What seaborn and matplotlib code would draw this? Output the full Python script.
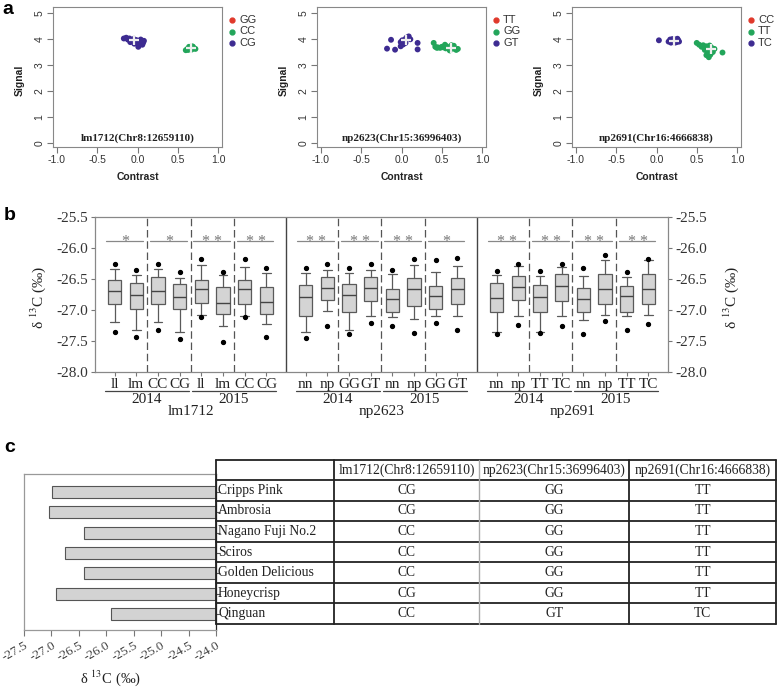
import numpy as np
import pandas as pd
import matplotlib
matplotlib.use('Agg')
import matplotlib.pyplot as plt
import seaborn as sns
from matplotlib.transforms import blended_transform_factory

# ---------------- data ----------------
# panel a: genotype clusters (contrast, signal)
lm1712_genotypes = ['GG', 'CC', 'CG']
lm1712_cg_x = [-0.17, -0.14, -0.12, -0.10, -0.08, -0.06, -0.05, -0.03, -0.02, 0.00,
               0.01, 0.03, 0.05, 0.07, 0.08, -0.09, -0.01, 0.04, -0.04, 0.06]
lm1712_cg_y = [4.02, 4.05, 3.98, 4.02, 3.95, 3.92, 4.00, 3.97, 3.88, 3.85,
               3.70, 3.80, 3.90, 3.86, 3.93, 3.88, 3.95, 3.98, 3.82, 3.78]
lm1712_cc_x = [0.60, 0.62, 0.64, 0.66, 0.68, 0.70, 0.72, 0.63, 0.67, 0.69]
lm1712_cc_y = [3.57, 3.62, 3.70, 3.66, 3.72, 3.64, 3.62, 3.58, 3.59, 3.70]
lm1712_centers = ([-0.04, 0.66], [3.96, 3.65])

np2623_genotypes = ['TT', 'GG', 'GT']
np2623_gt_x = [-0.18, -0.13, -0.08, -0.01, -0.01, 0.01, 0.04, 0.06, 0.09, 0.11, 0.05, 0.20, 0.20, 0.02]
np2623_gt_y = [3.63, 3.97, 3.59, 3.72, 3.88, 3.95, 3.97, 4.05, 4.10, 3.99, 3.85, 3.85, 3.60, 3.79]
np2623_gg_x = [0.40, 0.42, 0.45, 0.48, 0.50, 0.52, 0.54, 0.56, 0.58, 0.60,
               0.62, 0.64, 0.66, 0.68, 0.70, 0.60, 0.55, 0.65, 0.44, 0.62]
np2623_gg_y = [3.85, 3.70, 3.68, 3.66, 3.70, 3.68, 3.78, 3.72, 3.65, 3.60,
               3.70, 3.66, 3.62, 3.58, 3.62, 3.56, 3.64, 3.74, 3.66, 3.76]
np2623_centers = ([0.06, 0.61], [3.95, 3.66])

np2691_genotypes = ['CC', 'TT', 'TC']
np2691_tc_x = [0.03, 0.15, 0.17, 0.18, 0.20, 0.22, 0.24, 0.25, 0.27, 0.28, 0.19, 0.23, 0.26]
np2691_tc_y = [3.95, 3.90, 3.98, 3.86, 4.00, 3.93, 3.98, 3.88, 3.95, 3.90, 3.93, 3.86, 4.01]
np2691_tt_x = [0.50, 0.53, 0.56, 0.58, 0.60, 0.62, 0.63, 0.64, 0.65, 0.66,
               0.67, 0.68, 0.70, 0.72, 0.62, 0.82, 0.66, 0.60]
np2691_tt_y = [3.85, 3.78, 3.70, 3.76, 3.65, 3.72, 3.55, 3.45, 3.30, 3.60,
               3.40, 3.68, 3.50, 3.62, 3.38, 3.48, 3.75, 3.58]
np2691_centers = ([0.22, 0.68], [3.93, 3.62])

scatter_titles = ['lm1712(Chr8:12659110)', 'np2623(Chr15:36996403)', 'np2691(Chr16:4666838)']

# panel b: box summaries, 24 boxes (3 loci x 2 years x 2 genotypes x 2)
box_labels = ['ll', 'lm', 'CC', 'CG', 'll', 'lm', 'CC', 'CG',
              'nn', 'np', 'GG', 'GT', 'nn', 'np', 'GG', 'GT',
              'nn', 'np', 'TT', 'TC', 'nn', 'np', 'TT', 'TC']
box_flier_hi = [-26.26, -26.36, -26.26, -26.39, -26.17, -26.39, -26.17, -26.32,
                -26.32, -26.25, -26.33, -26.25, -26.36, -26.18, -26.20, -26.16,
                -26.37, -26.25, -26.37, -26.25, -26.33, -26.11, -26.38, -26.17]
box_whishi = [-26.34, -26.43, -26.34, -26.48, -26.27, -26.43, -26.31, -26.40,
              -26.41, -26.36, -26.41, -26.35, -26.42, -26.28, -26.38, -26.29,
              -26.43, -26.29, -26.45, -26.31, -26.45, -26.19, -26.47, -26.19]
box_q3 = [-26.51, -26.56, -26.46, -26.58, -26.51, -26.63, -26.52, -26.63,
          -26.59, -26.46, -26.58, -26.47, -26.66, -26.48, -26.62, -26.49,
          -26.56, -26.45, -26.59, -26.42, -26.64, -26.42, -26.62, -26.42]
box_median = [-26.70, -26.75, -26.70, -26.79, -26.66, -26.88, -26.66, -26.87,
              -26.79, -26.65, -26.75, -26.64, -26.83, -26.66, -26.78, -26.66,
              -26.81, -26.63, -26.79, -26.61, -26.83, -26.66, -26.78, -26.66]
box_q1 = [-26.90, -26.98, -26.90, -26.98, -26.88, -27.06, -26.90, -27.06,
          -27.09, -26.84, -27.03, -26.86, -27.04, -26.94, -26.99, -26.91,
          -27.03, -26.84, -27.03, -26.85, -27.04, -26.90, -27.04, -26.90]
box_whislo = [-27.19, -27.33, -27.19, -27.35, -27.08, -27.25, -27.09, -27.23,
              -27.36, -27.01, -27.32, -27.09, -27.11, -27.15, -27.10, -27.10,
              -27.35, -27.09, -27.36, -27.10, -27.16, -27.08, -27.09, -27.08]
box_flier_lo = [-27.36, -27.44, -27.33, -27.46, -27.12, -27.51, -27.11, -27.44,
                -27.45, -27.25, -27.39, -27.21, -27.26, -27.37, -27.21, -27.33,
                -27.38, -27.24, -27.37, -27.25, -27.39, -27.17, -27.32, -27.23]
pair_stars = ['*', '*', '**', '**', '**', '**', '**', '*', '**', '**', '**', '**']
years = ['2014', '2015']
loci = ['lm1712', 'np2623', 'np2691']

# panel c
cultivars = ['Cripps Pink', 'Ambrosia', 'Nagano Fuji No.2', 'Sciros',
             'Golden Delicious', 'Honeycrisp', 'Qinguan']
cultivar_d13c = [-26.99, -27.04, -26.40, -26.75, -26.41, -26.91, -25.91]
table_headers = ['lm1712(Chr8:12659110)', 'np2623(Chr15:36996403)', 'np2691(Chr16:4666838)']
lm1712_calls = ['CG', 'CG', 'CC', 'CC', 'CC', 'CG', 'CC']
np2623_calls = ['GG', 'GG', 'GG', 'GG', 'GG', 'GG', 'GT']
np2691_calls = ['TT', 'TT', 'TT', 'TT', 'TT', 'TT', 'TC']

# ---------------- style ----------------
sns.set_theme(style='white')
plt.rcParams['font.family'] = ['Liberation Sans', 'DejaVu Sans']
plt.rcParams['mathtext.fontset'] = 'stix'
SERIF = ['Liberation Serif', 'DejaVu Serif']
GENO_COLORS = ['#E0392B', '#22A55A', '#3D2B91']
D13C = 'δ $^{13}$C (‰)'
B_FS = 11

W, H = 778, 690


def rect(l, t, r, b):
    """Pixel box (left, top, right, bottom) -> figure fraction rect."""
    return [l / W, 1 - b / H, (r - l) / W, (b - t) / H]


fig = plt.figure(figsize=(W / 100, H / 100), dpi=100)

# ---------------- panel a ----------------
scatter_boxes = [(53, 7, 222, 147), (317, 7, 486, 147), (572, 7, 741, 147)]
scatter_sets = [
    (lm1712_genotypes, [(lm1712_cg_x, lm1712_cg_y, 'CG'), (lm1712_cc_x, lm1712_cc_y, 'CC')], lm1712_centers),
    (np2623_genotypes, [(np2623_gt_x, np2623_gt_y, 'GT'), (np2623_gg_x, np2623_gg_y, 'GG')], np2623_centers),
    (np2691_genotypes, [(np2691_tc_x, np2691_tc_y, 'TC'), (np2691_tt_x, np2691_tt_y, 'TT')], np2691_centers),
]

for box, (genos, groups, centers), title in zip(scatter_boxes, scatter_sets, scatter_titles):
    ax = fig.add_axes(rect(*box))
    frames = [pd.DataFrame({'Contrast': gx, 'Signal': gy, 'Genotype': g}) for gx, gy, g in groups]
    df = pd.concat(frames, ignore_index=True)
    sns.scatterplot(data=df, x='Contrast', y='Signal', hue='Genotype', hue_order=genos,
                    palette=dict(zip(genos, GENO_COLORS)), s=18, linewidth=0,
                    legend=False, ax=ax)
    ax.plot(centers[0], centers[1], ls='none', marker='+', color='#eeeeee', ms=7, mew=1.6)
    ax.set_xlim(-1.05, 1.05)
    ax.set_ylim(-0.15, 5.23)
    ax.set_xticks([-1, -0.5, 0, 0.5, 1], ['-1.0', '-0.5', '0.0', '0.5', '1.0'])
    ax.set_yticks(range(6), [str(v) for v in range(6)])
    ax.tick_params(length=4, width=0.8, color='#777', labelsize=7.5, labelcolor='#333',
                   pad=2, direction='out', bottom=True, left=True)
    for lab in ax.get_yticklabels():
        lab.set_rotation(90)
        lab.set_va('center')
    ax.set_xlabel('')
    ax.set_ylabel('')
    for sp in ax.spines.values():
        sp.set_color('#888')
        sp.set_linewidth(0.8)
    ax.text(0.5, 0.065, title, transform=ax.transAxes, ha='center', va='center',
            fontsize=8, fontweight='bold', family=SERIF, color='#222')
    left, top, right, bottom = box
    fig.text((left - 33) / W, 1 - 80 / H, 'Signal', rotation=90, ha='center', va='center',
             fontsize=7.5, fontweight='bold', color='#222')
    fig.text((left + right) / 2 / W, 1 - 177 / H, 'Contrast', ha='center', va='center',
             fontsize=7.5, fontweight='bold', color='#222')
    # legend outside the plot
    for k, (g, c) in enumerate(zip(genos, GENO_COLORS)):
        ypx = 20 + k * 11.5
        ax.plot([1 + 10 / (right - left)], [(bottom - ypx) / (bottom - top)], 'o', ms=3.5,
                color=c, transform=ax.transAxes, clip_on=False)
        fig.text((right + 17) / W, 1 - ypx / H, g, ha='left', va='center',
                 fontsize=8, color='#333')

# ---------------- panel b ----------------
ax_b = fig.add_axes(rect(95, 217, 668, 372))
GROUP_W = 8.8
pos = [g * GROUP_W + 0.9 + i for g in range(3) for i in range(8)]
stats = [dict(med=m, q1=a, q3=b, whislo=wl, whishi=wh, fliers=[fl, fh])
         for m, a, b, wl, wh, fl, fh in zip(box_median, box_q1, box_q3, box_whislo,
                                            box_whishi, box_flier_lo, box_flier_hi)]
ax_b.bxp(stats, positions=pos, widths=0.62, capwidths=0.4, patch_artist=True,
         boxprops=dict(facecolor='#d4d4d4', edgecolor='#5a5a5a', linewidth=0.9),
         medianprops=dict(color='#444444', linewidth=1.0),
         whiskerprops=dict(color='#5a5a5a', linewidth=0.9),
         capprops=dict(color='#5a5a5a', linewidth=0.9),
         flierprops=dict(marker='o', markerfacecolor='black', markeredgecolor='black',
                         markersize=2.8))

# subgroup separators
for g in range(3):
    for off in (2.4, 4.4, 6.4):
        ax_b.axvline(g * GROUP_W + off, color='#555', lw=0.9, ls=(0, (6, 3)))
for g in (1, 2):
    ax_b.axvline(g * GROUP_W, color='#444', lw=1.0)

# significance bars
SIG_Y = -25.89
for k, stars in enumerate(pair_stars):
    c1, c2 = pos[2 * k], pos[2 * k + 1]
    ax_b.plot([c1 - 0.38, c2 + 0.32], [SIG_Y, SIG_Y], color='#888', lw=0.9)
    ax_b.text((c1 + c2) / 2, SIG_Y - 0.075, ' '.join(stars), ha='center', va='baseline',
              fontsize=11.5, family=SERIF, color='#777')

ax_b.set_xlim(0, 3 * GROUP_W)
ax_b.set_ylim(-28.0, -25.5)
yt = np.arange(-28.0, -25.4, 0.5)
ax_b.set_yticks(yt, [f'{v:.1f}' for v in yt], fontfamily=SERIF)
ax_b.set_xticks(pos, box_labels, fontfamily=SERIF)
ax_b.tick_params(axis='y', left=True, right=True, labelleft=True, labelright=True,
                 length=3, width=0.8, color='#777', labelsize=B_FS, labelcolor='#333', pad=2)
ax_b.tick_params(axis='x', bottom=True, length=3, width=0.8, color='#777',
                 labelsize=B_FS, labelcolor='#222', pad=1)
for sp in ax_b.spines.values():
    sp.set_color('#888')
    sp.set_linewidth(0.9)

trans_b = blended_transform_factory(ax_b.transData, ax_b.transAxes)


def yfrac(px):
    return (372 - px) / (372 - 217)


for g, locus in enumerate(loci):
    for y, yr in enumerate(years):
        first = g * 8 + y * 4
        last = first + 3
        ax_b.plot([pos[first] - 0.45, pos[last] + 0.45], [yfrac(391), yfrac(391)],
                  color='#444', lw=0.9, transform=trans_b, clip_on=False)
        ax_b.text((pos[first] + pos[last]) / 2, yfrac(399.5), yr, transform=trans_b,
                  ha='center', va='center', fontsize=B_FS, family=SERIF, color='#222')
    ax_b.text(g * GROUP_W + GROUP_W / 2, yfrac(411.5), locus, transform=trans_b,
              ha='center', va='center', fontsize=B_FS, family=SERIF, color='#222')

fig.text(38 / W, 1 - 297 / H, D13C, rotation=90, ha='center', va='center',
         fontsize=B_FS, family=SERIF, color='#222')
fig.text(731 / W, 1 - 297 / H, D13C, rotation=90, ha='center', va='center',
         fontsize=B_FS, family=SERIF, color='#222')

# ---------------- panel c ----------------
ax_c = fig.add_axes(rect(24, 474, 216, 630))
sns.barplot(x=cultivar_d13c, y=cultivars, orient='h', color='#d3d3d3', saturation=1,
            edgecolor='#555', linewidth=0.8, width=0.58, errorbar=None, ax=ax_c)
ax_c.set_xlim(-27.5, -24.0)
ax_c.set_ylim(6.78, -0.88)
xt = np.arange(-27.5, -23.9, 0.5)
ax_c.set_xticks(xt, [f'{v:.1f}' for v in xt], fontfamily=SERIF)
for lab in ax_c.get_xticklabels():
    lab.set_rotation(30)
    lab.set_ha('right')
    lab.set_va('top')
    lab.set_rotation_mode('anchor')
ax_c.yaxis.tick_right()
ax_c.set_yticks(range(len(cultivars)), [''] * len(cultivars))
ax_c.tick_params(axis='x', bottom=True, length=4, width=0.8, color='#777',
                 labelsize=9.5, labelcolor='#444', pad=3)
ax_c.tick_params(axis='y', right=True, left=False, length=3, width=0.8, color='#555')
ax_c.set_xlabel('')
ax_c.set_ylabel('')
for name, sp in ax_c.spines.items():
    sp.set_color('#222' if name == 'right' else '#999')
    sp.set_linewidth(0.9)
fig.text(110 / W, 1 - 678 / H, D13C, ha='center', va='center', fontsize=10.5,
         family=SERIF, color='#222')

# table
ax_t = fig.add_axes(rect(216, 460, 776, 624))
ax_t.set_xlim(216, 776)
ax_t.set_ylim(624, 460)
ax_t.axis('off')
col_x = [216, 334, 479, 629, 776]
row_y = [460] + list(np.linspace(480, 624, len(cultivars) + 1))
for y in row_y:
    ax_t.plot([col_x[0], col_x[-1]], [y, y], color='#222', lw=1.3, clip_on=False)
for i, x in enumerate(col_x):
    ax_t.plot([x, x], [row_y[0], row_y[-1]], color='#aaa' if i == 2 else '#222',
              lw=1.0 if i == 2 else 1.3, clip_on=False)
for j, head in enumerate(table_headers):
    ax_t.text((col_x[j + 1] + col_x[j + 2]) / 2, (row_y[0] + row_y[1]) / 2, head,
              ha='center', va='center', fontsize=9.8, family=SERIF, color='#222')
for i, name in enumerate(cultivars):
    yc = (row_y[i + 1] + row_y[i + 2]) / 2
    ax_t.text(col_x[0] + 2, yc, name, ha='left', va='center', fontsize=9.8,
              family=SERIF, color='#222')
    for j, calls in enumerate((lm1712_calls, np2623_calls, np2691_calls)):
        ax_t.text((col_x[j + 1] + col_x[j + 2]) / 2, yc, calls[i], ha='center',
                  va='center', fontsize=9.8, family=SERIF, color='#222')

# panel letters
for letter, (x, y) in zip('abc', [(8, 10), (10, 216), (10, 448)]):
    fig.text(x / W, 1 - y / H, letter, ha='center', va='center', fontsize=14,
             fontweight='bold', color='black')

fig.savefig('out.png', dpi=100)
